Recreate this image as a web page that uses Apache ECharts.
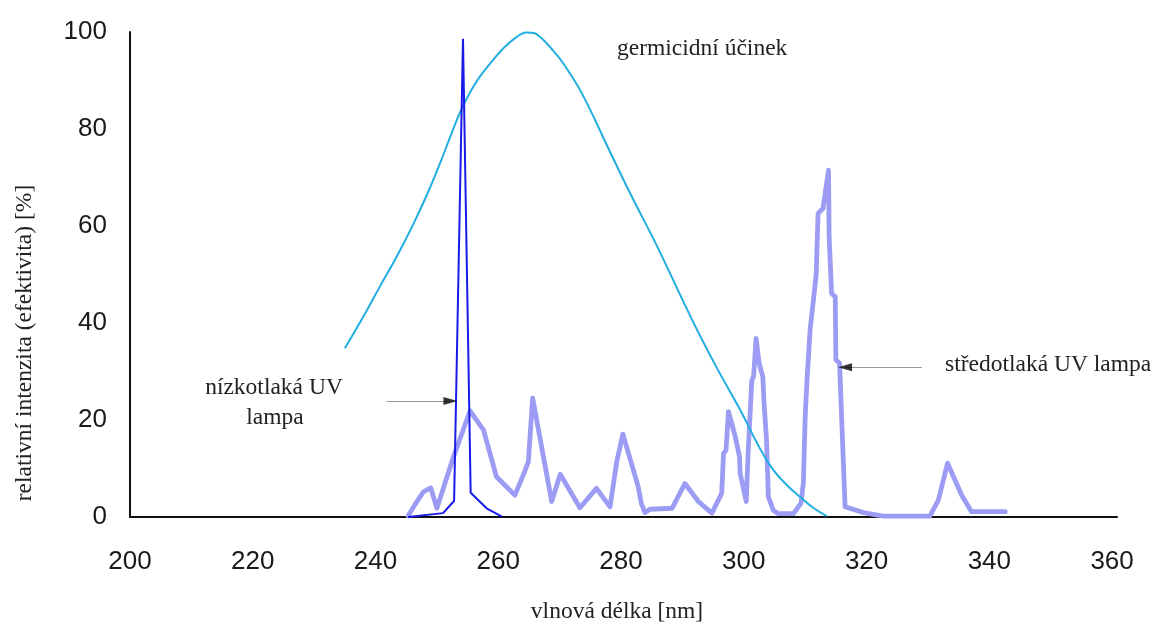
<!DOCTYPE html>
<html>
<head>
<meta charset="utf-8">
<script src="https://cdn.jsdelivr.net/npm/echarts@6/dist/echarts.min.js"></script>
<style>
html,body{margin:0;padding:0;background:#fff;}
#chart{width:1158px;height:631px;}
</style>
</head>
<body>
<div id="chart"></div>
<script>
// ---- data ----
const xTicks = [200, 220, 240, 260, 280, 300, 320, 340, 360];
const yTicks = [0, 20, 40, 60, 80, 100];

const germX = [235, 238, 240.7, 243.5, 246.2, 248.5, 250.5, 252.3, 253.8, 255.5, 257.0, 259.0, 260.8, 262.8, 264.6, 265.8, 266.8, 268.7, 270.6, 273.6, 278.2, 281.5, 286.0, 291.6, 295.5, 299.4, 302.6, 304.8, 307.0, 309.2, 311.3, 313.5];
const germY = [34.8, 41.3, 47.5, 53.8, 60.5, 66.8, 72.9, 78.8, 83.5, 87.8, 90.8, 94.0, 96.6, 98.8, 99.9, 99.8, 99.0, 96.5, 93.5, 87.4, 75.3, 66.7, 55.5, 40.6, 31.0, 22.1, 14.2, 9.7, 6.6, 4.1, 1.9, 0.2];

const lowX = [245.3, 251.0, 252.8, 254.25, 255.5, 258.1, 260.6];
const lowY = [0, 0.8, 3.3, 98.6, 5.0, 1.8, 0.1];

const medX = [245.3, 246.4, 247.8, 249.0, 250.0, 252.7, 255.4, 257.6, 259.7, 262.7, 263.7, 264.4, 264.9, 265.6, 268.7, 270.1, 273.3, 276.0, 278.2, 279.3, 280.3, 282.8, 283.3, 283.9, 284.7, 288.3, 290.4, 292.6, 294.8, 296.4, 296.7, 297.1, 297.5, 298.6, 299.3, 299.4, 300.4, 300.7, 301.3, 301.6, 302.0, 302.5, 303.1, 303.3, 303.7, 304.0, 304.8, 305.6, 308.1, 309.3, 309.7, 310.0, 310.3, 310.8, 311.4, 311.8, 312.1, 312.1, 312.9, 313.8, 313.9, 314.3, 314.9, 315.0, 315.6, 316.5, 319.5, 322.7, 330.3, 331.7, 333.2, 335.5, 337.1, 342.6];
const medY = [0.2, 2.5, 5.2, 6.0, 1.8, 12.4, 21.9, 17.9, 8.3, 4.5, 7.5, 9.7, 11.4, 24.5, 3.2, 8.8, 1.9, 5.9, 2.1, 11.4, 17.1, 6.2, 2.8, 0.9, 1.6, 1.8, 6.9, 3.2, 0.8, 4.9, 13.1, 13.8, 21.7, 16.6, 12.4, 9.0, 3.2, 13.1, 28.2, 29.0, 36.8, 31.7, 28.9, 23.4, 15.9, 4.2, 1.4, 0.7, 0.7, 2.8, 6.9, 20.7, 28.2, 38.6, 45.4, 50.2, 50.6, 62.6, 63.6, 71.5, 57.8, 46.1, 45.4, 32.4, 31.7, 2.1, 0.9, 0.2, 0.2, 3.5, 11.1, 4.5, 1.1, 1.1];

// annotation arrows (data coordinates): [tailX, tipX, y]
const lowArrow = [241.8, 252.2, 23.9];
const medArrow = [329.0, 316.5, 30.9];

const labels = {
  germ: 'germicidní účinek',
  low1: 'nízkotlaká UV',
  low2: 'lampa',
  med: 'středotlaká UV lampa',
  xName: 'vlnová délka [nm]',
  yName: 'relativní intenzita (efektivita) [%]'
};

const pairs = (xs, ys) => xs.map((x, i) => [x, ys[i]]);
const serif = "'Liberation Serif', 'Times New Roman', serif";
const sans = "'Liberation Sans', Arial, sans-serif";
const tf = '23.5px ' + serif;

const chart = echarts.init(document.getElementById('chart'), null, {renderer: 'canvas'});
chart.setOption({
  animation: false,
  backgroundColor: '#fff',
  grid: {left: 130, right: 41, top: 32, bottom: 114},
  xAxis: {
    type: 'value', min: xTicks[0], max: 360.8, interval: 20,
    axisLine: {show: true, lineStyle: {color: '#111', width: 2}},
    axisTick: {show: false},
    splitLine: {show: false},
    axisLabel: {
      margin: 32, fontSize: 26, color: '#1a1a1a', fontFamily: sans,
      formatter: v => (xTicks.indexOf(Math.round(v)) >= 0 && Math.abs(v - Math.round(v)) < 1e-6) ? String(Math.round(v)) : '',
      showMaxLabel: false
    }
  },
  yAxis: {
    type: 'value', min: yTicks[0], max: yTicks[yTicks.length - 1], interval: 20,
    axisLine: {show: true, lineStyle: {color: '#111', width: 2}},
    axisTick: {show: false},
    splitLine: {show: false},
    axisLabel: {margin: 23, fontSize: 26, color: '#1a1a1a', fontFamily: sans}
  },
  series: [
    {
      name: 'středotlaká UV lampa', type: 'line', data: pairs(medX, medY),
      showSymbol: false, symbol: 'none',
      lineStyle: {color: '#9c9cf4', width: 4.8, join: 'round', cap: 'round'},
      z: 2,
      markLine: {
        silent: true, symbol: ['none', 'none'],
        lineStyle: {color: '#999', width: 1, type: 'solid'},
        label: {show: false},
        data: [
          [{coord: [lowArrow[0], lowArrow[2]]}, {coord: [lowArrow[1], lowArrow[2]]}],
          [{coord: [medArrow[0], medArrow[2]]}, {coord: [medArrow[1], medArrow[2]]}]
        ]
      }
    },
    {
      name: 'germicidní účinek', type: 'line', data: pairs(germX, germY),
      showSymbol: false, symbol: 'none', smooth: 0.4,
      lineStyle: {color: '#22aee0', width: 2},
      z: 3
    },
    {
      name: 'nízkotlaká UV lampa', type: 'line', data: pairs(lowX, lowY),
      showSymbol: false, symbol: 'none',
      lineStyle: {color: '#1a1ae8', width: 2},
      z: 4
    },
    {
      name: 'arrowheads', type: 'scatter',
      data: [
        {value: [lowArrow[1], lowArrow[2]], symbolRotate: -90},
        {value: [medArrow[1], medArrow[2]], symbolRotate: 90}
      ],
      symbol: 'triangle', symbolSize: [8, 14],
      itemStyle: {color: '#000'},
      z: 5, silent: true
    }
  ],
  graphic: [
    {type: 'text', x: 617, y: 49, style: {text: labels.germ, font: tf, fill: '#222', align: 'left', verticalAlign: 'middle'}},
    {type: 'text', x: 274, y: 388, style: {text: labels.low1, font: tf, fill: '#222', align: 'center', verticalAlign: 'middle'}},
    {type: 'text', x: 275, y: 418, style: {text: labels.low2, font: tf, fill: '#222', align: 'center', verticalAlign: 'middle'}},
    {type: 'text', x: 945, y: 365, style: {text: labels.med, font: tf, fill: '#222', align: 'left', verticalAlign: 'middle'}},
    {type: 'text', x: 617, y: 612, style: {text: labels.xName, font: tf, fill: '#222', align: 'center', verticalAlign: 'middle'}},
    {type: 'text', x: 25, y: 343, rotation: Math.PI / 2, style: {text: labels.yName, font: tf, fill: '#222', align: 'center', verticalAlign: 'middle'}}
  ]
});
</script>
</body>
</html>
